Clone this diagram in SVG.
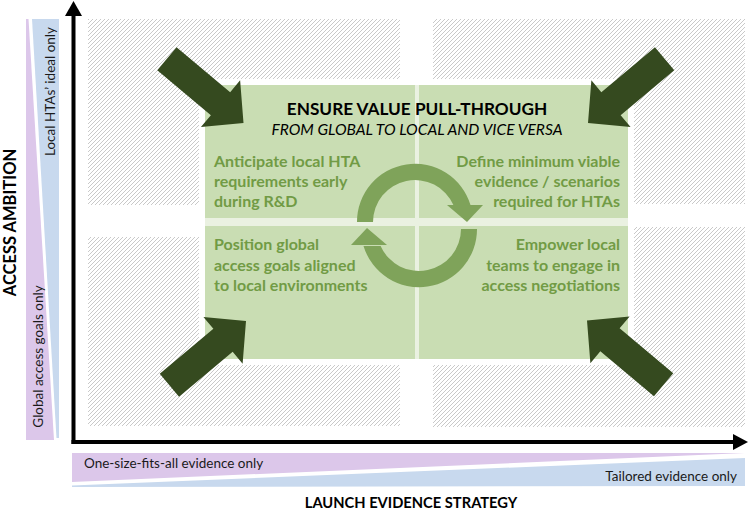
<svg xmlns="http://www.w3.org/2000/svg" width="749" height="518" viewBox="0 0 749 518">
<defs>
<pattern id="hatch" patternUnits="userSpaceOnUse" width="4" height="4">
<rect width="4" height="4" fill="#ffffff"/>
<path d="M-1,1 L1,-1 M0,4 L4,0 M3,5 L5,3" stroke="#c9c9c9" stroke-width="1"/>
</pattern>
<polygon id="bigarrow" points="0,0 -30,-30.5 -30,-15 -100,-15 -100,15 -30,15 -30,30.5"/>
</defs>
<style>
.hatch{fill:url(#hatch)}
.cell{fill:#c9ddb3}
.cellText{font-family:Lato,"Liberation Sans",sans-serif;font-weight:bold;font-size:16px;fill:#719b45}
.axisTitle{font-family:Lato,"Liberation Sans",sans-serif;font-weight:bold;font-size:16.5px;fill:#000}
.axisTitleX{font-family:Lato,"Liberation Sans",sans-serif;font-weight:bold;font-size:14.7px;fill:#000}
.barText{font-family:Lato,"Liberation Sans",sans-serif;font-size:13.5px;fill:#1a1a1a}
.dark{fill:#354a1f}
.cyc{fill:#7fa35a}
</style>
<rect width="749" height="518" fill="#ffffff"/>

<g id="quadrants">
<rect class="hatch" x="88" y="19" width="312" height="186"/>
<rect class="hatch" x="433" y="19" width="312" height="185"/>
<rect class="hatch" x="88" y="237" width="312" height="189"/>
<rect class="hatch" x="433" y="227" width="312" height="200"/>
</g>

<g id="ambition-bars">
<polygon points="26,19 28.5,19 54,440 26,440" fill="#dcc7ea"/>
<polygon points="32,19 59,19 59,438 56.5,438" fill="#c8d9ee"/>
<text class="barText" transform="translate(55,91.5) rotate(-90)" text-anchor="middle">Local HTAs’ ideal only</text>
<text class="barText" transform="translate(43,356.5) rotate(-90)" text-anchor="middle">Global access goals only</text>
</g>

<g id="evidence-bars">
<polygon points="72,453 745,453 72,482" fill="#dcc7ea"/>
<polygon points="72,485.5 745,458 745,486 72,487" fill="#c8d9ee"/>
<text class="barText" x="84" y="468">One-size-fits-all evidence only</text>
<text class="barText" x="737" y="481" text-anchor="end">Tailored evidence only</text>
</g>

<g id="axes">
<line x1="73.5" y1="12" x2="73.5" y2="444" stroke="#000" stroke-width="4"/>
<line x1="71.5" y1="442" x2="735" y2="442" stroke="#000" stroke-width="4"/>
<polygon points="73.5,1 65,16 82,16" fill="#000"/>
<polygon points="748,442 733,434 733,450" fill="#000"/>
<text class="axisTitle" transform="translate(16,222.5) rotate(-90)" text-anchor="middle">ACCESS AMBITION</text>
<text class="axisTitleX" x="411" y="508" text-anchor="middle">LAUNCH EVIDENCE STRATEGY</text>
</g>

<g id="matrix">
<rect x="205" y="85" width="423" height="274" fill="#eaf1e1" stroke="#ffffff" stroke-width="12"/>
<rect x="205" y="85" width="423" height="274" fill="#eaf1e1"/>
<g id="cell-tl">
<rect class="cell" x="205" y="85" width="210" height="133"/>
<text class="cellText" x="214" y="167">Anticipate local HTA</text>
<text class="cellText" x="214" y="187">requirements early</text>
<text class="cellText" x="214" y="207">during R&amp;D</text>
</g>
<g id="cell-tr">
<rect class="cell" x="419" y="85" width="209" height="133"/>
<text class="cellText" x="620" y="167" text-anchor="end">Define minimum viable</text>
<text class="cellText" x="620" y="187" text-anchor="end">evidence / scenarios</text>
<text class="cellText" x="620" y="207" text-anchor="end">required for HTAs</text>
</g>
<g id="cell-bl">
<rect class="cell" x="205" y="226" width="210" height="133"/>
<text class="cellText" x="214" y="250">Position global</text>
<text class="cellText" x="214" y="271">access goals aligned</text>
<text class="cellText" x="214" y="291">to local environments</text>
</g>
<g id="cell-br">
<rect class="cell" x="419" y="226" width="209" height="133"/>
<text class="cellText" x="620" y="250" text-anchor="end">Empower local</text>
<text class="cellText" x="620" y="271" text-anchor="end">teams to engage in</text>
<text class="cellText" x="620" y="291" text-anchor="end">access negotiations</text>
</g>
<g id="title">
<text x="417" y="115" text-anchor="middle" font-family="Lato,'Liberation Sans',sans-serif" font-weight="bold" font-size="17.2" fill="#000">ENSURE VALUE PULL-THROUGH</text>
<text x="417" y="135" text-anchor="middle" font-family="Lato,'Liberation Sans',sans-serif" font-style="italic" font-size="15.6" fill="#000">FROM GLOBAL TO LOCAL AND VICE VERSA</text>
</g>
</g>

<g id="connectors">
<path class="cyc" d="M357,222 A58,58 0 0 1 470.5,205 L453.4,205 A42,42 0 0 0 373,222 Z"/>
<polygon class="cyc" points="447,205 483,205 467,222"/>
<path class="cyc" d="M477,229 A58,58 0 0 1 363.5,246 L380.6,246 A42,42 0 0 0 461,229 Z"/>
<polygon class="cyc" points="387,245 351,245 367,228"/>
<use href="#bigarrow" class="dark" transform="translate(243.5,123) rotate(40)"/>
<use href="#bigarrow" class="dark" transform="translate(588,123) rotate(140)"/>
<use href="#bigarrow" class="dark" transform="translate(246,321) rotate(-40)"/>
<use href="#bigarrow" class="dark" transform="translate(587,320.5) rotate(-140)"/>
</g>
</svg>
